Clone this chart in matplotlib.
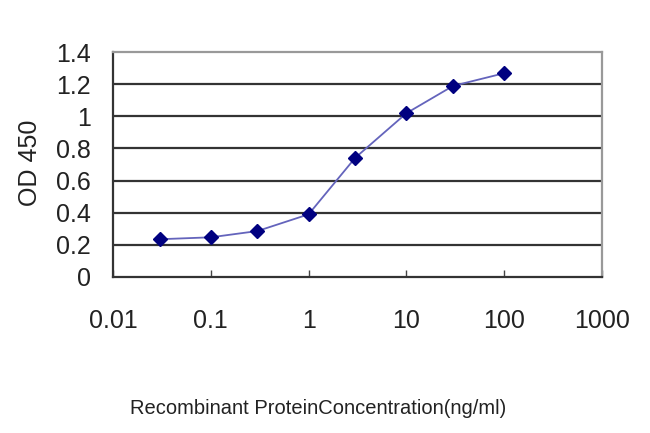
import numpy as np
import matplotlib
matplotlib.use('Agg')
import matplotlib.pyplot as plt

# concentration (ng/ml) and OD 450
conc = [0.03, 0.1, 0.3, 1, 3, 10, 30, 100]
od450 = [0.235, 0.247, 0.286, 0.39, 0.742, 1.019, 1.189, 1.268]
y_ticks = [0, 0.2, 0.4, 0.6, 0.8, 1, 1.2, 1.4]
y_labels = ['0', '0.2', '0.4', '0.6', '0.8', '1', '1.2', '1.4']
x_ticks = [0.01, 0.1, 1, 10, 100, 1000]
x_labels = ['0.01', '0.1', '1', '10', '100', '1000']

plt.rcParams['font.family'] = ['Liberation Sans', 'DejaVu Sans']

fig = plt.figure(figsize=(6.5, 4.33), dpi=100)
ax = fig.add_axes([113/650, 1 - 277/433, (602-113)/650, (277-52)/433])

ax.plot(conc, od450, color='#6464bc', lw=1.3, zorder=3)
ax.plot(conc, od450, ls='none', marker='D', ms=7.5, color='#000080', zorder=4)

ax.set_xscale('log')
ax.set_xlim(0.01, 1000)
ax.set_ylim(0, 1.4)

for y in y_ticks[1:-1]:
    ax.axhline(y, color='#333333', lw=1.6, zorder=1)

ax.set_xticks(x_ticks)
ax.set_xticklabels(x_labels, fontsize=18, color='#222222')
ax.xaxis.set_minor_locator(matplotlib.ticker.NullLocator())
ax.tick_params(axis='x', direction='in', length=5, width=1, color='#444444', pad=23)
ax.set_yticks(y_ticks)
ax.set_yticklabels(y_labels, fontsize=18, color='#222222')
ax.tick_params(axis='y', length=0, pad=16)

for side in ['left', 'bottom']:
    ax.spines[side].set_color('#333333')
    ax.spines[side].set_linewidth(1.6)
for side in ['top', 'right']:
    ax.spines[side].set_color('#999999')
    ax.spines[side].set_linewidth(1.6)

fig.text(318/650, 1 - 408/433, 'Recombinant ProteinConcentration(ng/ml)',
         fontsize=14.5, color='#222222', ha='center', va='center')
fig.text(30/650, 1 - 163/433, 'OD 450', fontsize=18, color='#222222',
         ha='center', va='center', rotation=90)

fig.savefig('out.png', dpi=100)
